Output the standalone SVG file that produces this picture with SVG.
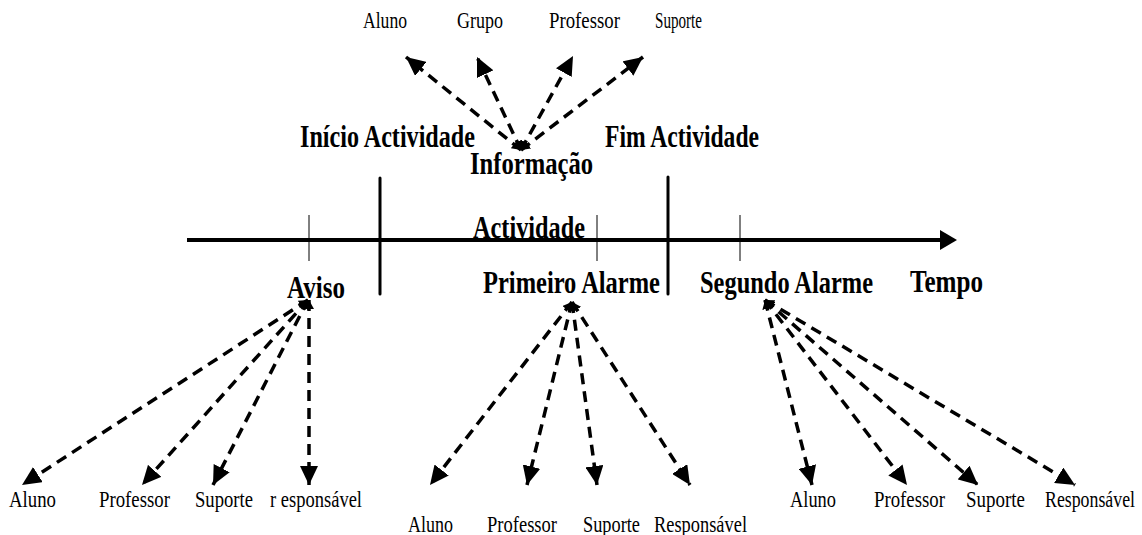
<svg xmlns="http://www.w3.org/2000/svg" width="1142" height="535" viewBox="0 0 1142 535">
  <style>
    .lbl { font-family: "Liberation Serif", "Times New Roman", serif; font-size: 23px; fill: #000; }
    .hdr { font-family: "Liberation Serif", "Times New Roman", serif; font-size: 31px; font-weight: bold; fill: #000; }
    .dash { fill: none; stroke: #000; stroke-width: 3.5; stroke-dasharray: 11 7; marker-start: url(#tail); marker-end: url(#head); }
    .axis { stroke: #000; stroke-width: 4; }
    .bar { stroke: #000; stroke-width: 3; stroke-linecap: round; }
    .tick { stroke: #000; stroke-width: 1; }
  </style>
  <defs>
    <marker id="head" markerUnits="userSpaceOnUse" markerWidth="20" markerHeight="18" refX="19" refY="9" orient="auto">
      <path d="M0,0 L19,9 L0,18 z" fill="#000"/>
    </marker>
    <marker id="tail" markerUnits="userSpaceOnUse" markerWidth="10" markerHeight="10" refX="9" refY="5" orient="auto-start-reverse">
      <path d="M0,0 L9,5 L0,10 z" fill="#000"/>
    </marker>
  </defs>

  <!-- time axis -->
  <g id="axis">
    <line class="axis" x1="187" y1="240" x2="942" y2="240"/>
    <polygon points="940,230 957,240 940,250" fill="#000"/>
    <line class="bar" x1="380" y1="178" x2="380" y2="294"/>
    <line class="bar" x1="668" y1="177" x2="668" y2="294"/>
    <line class="tick" x1="309" y1="215" x2="309" y2="261"/>
    <line class="tick" x1="597" y1="215" x2="597" y2="261"/>
    <line class="tick" x1="740" y1="215" x2="740" y2="261"/>
  </g>

  <!-- event labels -->
  <g id="inicio"><text class="hdr" x="300" y="147" textLength="175" lengthAdjust="spacingAndGlyphs">Início Actividade</text></g>
  <g id="fim"><text class="hdr" x="605" y="147" textLength="154" lengthAdjust="spacingAndGlyphs">Fim Actividade</text></g>
  <g id="informacao"><text class="hdr" x="470" y="174" textLength="123" lengthAdjust="spacingAndGlyphs">Informação</text></g>
  <g id="actividade"><text class="hdr" x="473" y="238" textLength="112" lengthAdjust="spacingAndGlyphs">Actividade</text></g>
  <g id="aviso"><text class="hdr" x="287" y="298" textLength="58" lengthAdjust="spacingAndGlyphs">Aviso</text></g>
  <g id="primeiro"><text class="hdr" x="483" y="293" textLength="177" lengthAdjust="spacingAndGlyphs">Primeiro Alarme</text></g>
  <g id="segundo"><text class="hdr" x="700" y="293" textLength="173" lengthAdjust="spacingAndGlyphs">Segundo Alarme</text></g>
  <g id="tempo"><text class="hdr" x="910" y="292" textLength="73" lengthAdjust="spacingAndGlyphs">Tempo</text></g>

  <!-- recipients of the information -->
  <g id="info-aluno"><text class="lbl" x="363" y="28" textLength="44" lengthAdjust="spacingAndGlyphs">Aluno</text></g>
  <g id="info-grupo"><text class="lbl" x="457" y="28" textLength="46" lengthAdjust="spacingAndGlyphs">Grupo</text></g>
  <g id="info-professor"><text class="lbl" x="549" y="28" textLength="71" lengthAdjust="spacingAndGlyphs">Professor</text></g>
  <g id="info-suporte"><text class="lbl" x="655" y="28" textLength="47" lengthAdjust="spacingAndGlyphs">Suporte</text></g>

  <!-- recipients of the warning -->
  <g id="aviso-aluno"><text class="lbl" x="9" y="507" textLength="47" lengthAdjust="spacingAndGlyphs">Aluno</text></g>
  <g id="aviso-professor"><text class="lbl" x="99" y="507" textLength="71" lengthAdjust="spacingAndGlyphs">Professor</text></g>
  <g id="aviso-suporte"><text class="lbl" x="195" y="507" textLength="58" lengthAdjust="spacingAndGlyphs">Suporte</text></g>
  <g id="aviso-responsavel"><text class="lbl" x="270" y="507" textLength="92" lengthAdjust="spacingAndGlyphs">r esponsável</text></g>

  <!-- recipients of the first alarm -->
  <g id="alarme1-aluno"><text class="lbl" x="408" y="532" textLength="45" lengthAdjust="spacingAndGlyphs">Aluno</text></g>
  <g id="alarme1-professor"><text class="lbl" x="487" y="532" textLength="70" lengthAdjust="spacingAndGlyphs">Professor</text></g>
  <g id="alarme1-suporte"><text class="lbl" x="583" y="532" textLength="57" lengthAdjust="spacingAndGlyphs">Suporte</text></g>
  <g id="alarme1-responsavel"><text class="lbl" x="654" y="532" textLength="93" lengthAdjust="spacingAndGlyphs">Responsável</text></g>

  <!-- recipients of the second alarm -->
  <g id="alarme2-aluno"><text class="lbl" x="790" y="507" textLength="46" lengthAdjust="spacingAndGlyphs">Aluno</text></g>
  <g id="alarme2-professor"><text class="lbl" x="874" y="507" textLength="71" lengthAdjust="spacingAndGlyphs">Professor</text></g>
  <g id="alarme2-suporte"><text class="lbl" x="966" y="507" textLength="59" lengthAdjust="spacingAndGlyphs">Suporte</text></g>
  <g id="alarme2-responsavel"><text class="lbl" x="1045" y="507" textLength="90" lengthAdjust="spacingAndGlyphs">Responsável</text></g>

  <!-- dashed notification connectors -->
  <g id="connectors">
    <line class="dash" x1="521" y1="150" x2="406" y2="57"/>
    <line class="dash" x1="521" y1="150" x2="477" y2="57"/>
    <line class="dash" x1="521" y1="150" x2="573" y2="56"/>
    <line class="dash" x1="521" y1="150" x2="643" y2="57"/>

    <line class="dash" x1="308" y1="300" x2="22" y2="485"/>
    <line class="dash" x1="308" y1="300" x2="142" y2="485"/>
    <line class="dash" x1="308" y1="300" x2="213" y2="485"/>
    <line class="dash" x1="309" y1="300" x2="309" y2="485"/>

    <line class="dash" x1="572" y1="302" x2="430" y2="485"/>
    <line class="dash" x1="572" y1="302" x2="527" y2="485"/>
    <line class="dash" x1="572" y1="302" x2="597" y2="485"/>
    <line class="dash" x1="572" y1="302" x2="690" y2="485"/>

    <line class="dash" x1="765" y1="300" x2="812" y2="485"/>
    <line class="dash" x1="765" y1="300" x2="907" y2="485"/>
    <line class="dash" x1="765" y1="300" x2="978" y2="485"/>
    <line class="dash" x1="765" y1="300" x2="1075" y2="485"/>
  </g>
</svg>
